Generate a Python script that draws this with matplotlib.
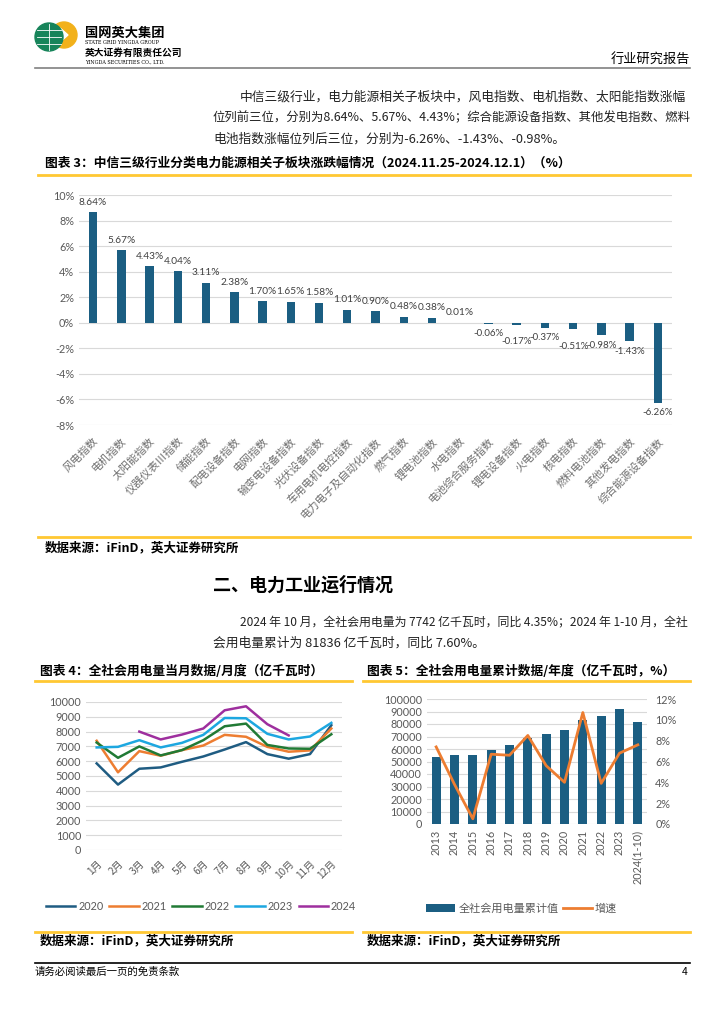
import numpy as np
import matplotlib
matplotlib.use('Agg')
import matplotlib.pyplot as plt
from matplotlib.patches import Circle, Polygon
from matplotlib.lines import Line2D

plt.rcParams['font.family'] = ['Noto Sans CJK SC', 'DejaVu Sans']

# chart 3: sub-sector weekly change (%)
sector_names = ['风电指数', '电机指数', '太阳能指数', '仪器仪表Ⅲ指数', '储能指数', '配电设备指数',
                '电网指数', '输变电设备指数', '光伏设备指数', '车用电机电控指数', '电力电子及自动化指数',
                '燃气指数', '锂电池指数', '水电指数', '电池综合服务指数', '锂电设备指数', '火电指数',
                '核电指数', '燃料电池指数', '其他发电指数', '综合能源设备指数']
sector_chg = [8.64, 5.67, 4.43, 4.04, 3.11, 2.38, 1.70, 1.65, 1.58, 1.01, 0.90,
              0.48, 0.38, 0.01, -0.06, -0.17, -0.37, -0.51, -0.98, -1.43, -6.26]

# chart 4: monthly consumption (亿千瓦时)
months = ['1月', '2月', '3月', '4月', '5月', '6月', '7月', '8月', '9月', '10月', '11月', '12月']
series_years = ['2020', '2021', '2022', '2023', '2024']
monthly_2020 = [5850, 4420, 5490, 5580, 5960, 6320, 6790, 7290, 6480, 6170, 6480, 8430]
monthly_2021 = [7380, 5250, 6680, 6370, 6750, 7060, 7780, 7650, 6970, 6640, 6730, 8210]
monthly_2022 = [7260, 6230, 7000, 6390, 6750, 7420, 8360, 8540, 7100, 6860, 6840, 7820]
monthly_2023 = [6930, 6970, 7420, 6930, 7240, 7780, 8920, 8900, 7850, 7470, 7670, 8590]
monthly_2024 = [np.nan, np.nan, 8000, 7470, 7800, 8210, 9440, 9710, 8500, 7742, np.nan, np.nan]
line_colors = ['#1F5C82', '#ED7D31', '#217A35', '#1DA7E0', '#9E2F9E']

# chart 5: cumulative consumption and growth
years = ['2013', '2014', '2015', '2016', '2017', '2018', '2019', '2020', '2021', '2022', '2023', '2024(1-10)']
cum_power = [53223, 55233, 55500, 59198, 63077, 68449, 72255, 75110, 83128, 86372, 92241, 81836]
growth = [7.4, 3.8, 0.5, 6.7, 6.6, 8.5, 5.6, 4.0, 10.7, 3.9, 6.8, 7.6]

W, H = 724, 1024
fig = plt.figure(figsize=(7.24, 10.24), dpi=100)
renderer = fig.canvas.get_renderer()

BLUE = '#1B5E82'
GRAY = '#595959'
GRID = '#D9D9D9'
YELLOW = '#FFC832'


def ax_px(l, t, r, b):
    return fig.add_axes([l / W, 1 - b / H, (r - l) / W, (b - t) / H])


def txt(x, y, s, **kw):
    return fig.text(x / W, 1 - y / H, s, **kw)


def txt_fit(x0, x1, y, s, **kw):
    # shrink a justified body line so it ends at the right margin
    t = txt(x0, y, s, **kw)
    w = t.get_window_extent(renderer).width
    if w > (x1 - x0):
        t.set_fontsize(t.get_fontsize() * (x1 - x0) / w)
    return t


def hline(x0, x1, y, color, lw):
    fig.add_artist(Line2D([x0 / W, x1 / W], [1 - y / H, 1 - y / H], color=color, lw=lw))


def clean(ax):
    for s in ax.spines.values():
        s.set_visible(False)
    ax.tick_params(length=0, colors=GRAY)
    ax.yaxis.grid(True, color=GRID, lw=0.8)
    ax.set_axisbelow(True)


# ---- header
lg = ax_px(33, 18, 79, 54)
lg.set_xlim(0, 46)
lg.set_ylim(0, 36)
lg.set_aspect('equal')
lg.axis('off')
lg.add_patch(Circle((31, 19), 13, color='#F2B11B'))
lg.add_patch(Polygon([[27, 26], [35, 19], [27, 12], [31, 19]], color='white'))
lg.add_patch(Circle((16, 17), 14, color='#17845A'))
for yy in (10, 17, 24):
    lg.plot([4, 28], [yy, yy], color='white', lw=0.6)
lg.plot([16, 16], [4, 30], color='white', lw=0.6)

txt(85, 33, '国网英大集团', fontsize=9.5, weight='bold', va='center')
txt(85, 43, 'STATE GRID YINGDA GROUP', fontsize=3.5, family='DejaVu Serif', va='center')
txt(85, 53, '英大证券有限责任公司', fontsize=7, weight='bold', va='center')
txt(85, 62, 'YINGDA SECURITIES CO., LTD.', fontsize=3.5, family='DejaVu Serif', va='center')
txt(690, 60, '行业研究报告', fontsize=9.5, ha='right', va='center')
hline(35, 690, 68, '#808080', 1.2)

# ---- paragraph 1
para = dict(fontsize=9.2, va='center', color='#222222')
txt_fit(240, 690, 97, '中信三级行业，电力能源相关子板块中，风电指数、电机指数、太阳能指数涨幅', **para)
txt_fit(213, 690, 118, '位列前三位，分别为8.64%、5.67%、4.43%；综合能源设备指数、其他发电指数、燃料', **para)
txt(213, 139, '电池指数涨幅位列后三位，分别为-6.26%、-1.43%、-0.98%。', **para)

txt(45, 163, '图表 3：中信三级行业分类电力能源相关子板块涨跌幅情况（2024.11.25-2024.12.1）（%）',
    fontsize=9.2, weight='bold', va='center')
hline(38, 690, 175, YELLOW, 2)

# ---- chart 3
ax3 = ax_px(79, 195, 672, 425)
clean(ax3)
x3 = np.arange(len(sector_names))
ax3.bar(x3, sector_chg, width=0.3, color=BLUE)
ax3.set_xlim(-0.5, len(sector_names) - 0.5)
ax3.set_ylim(-8, 10)
ax3.set_yticks(range(-8, 11, 2))
ax3.set_yticklabels([f'{v}%' for v in range(-8, 11, 2)], family='Lato', fontsize=7.8)
ax3.set_xticks(x3)
ax3.set_xticklabels(sector_names, rotation=45, ha='right', va='top', rotation_mode='anchor',
                    fontsize=7.8, color='#6E6E6E')
ax3.tick_params(axis='x', pad=8)
for xi, v in zip(x3, sector_chg):
    if v >= 0:
        ax3.annotate(f'{v:.2f}%', (xi, v), xytext=(0, 4), textcoords='offset points',
                     ha='center', va='bottom', fontsize=7.3, family='Lato', color='#404040')
    else:
        # alternate the small negative labels slightly so neighbours do not collide
        dy = -4 if (xi % 2 == 0 or v < -1) else -9
        ax3.annotate(f'{v:.2f}%', (xi, v), xytext=(0, dy), textcoords='offset points',
                     ha='center', va='top', fontsize=7.0, family='Lato', color='#404040')

hline(38, 690, 537, YELLOW, 2)
txt(45, 548, '数据来源：iFinD，英大证券研究所', fontsize=9, weight='bold', va='center')

# ---- section 2
txt(213, 585, '二、电力工业运行情况', fontsize=13, weight='bold', va='center')
txt_fit(240, 690, 622, '2024 年 10 月，全社会用电量为 7742 亿千瓦时，同比 4.35%；2024 年 1-10 月，全社', **para)
txt(213, 643, '会用电量累计为 81836 亿千瓦时，同比 7.60%。', **para)

# ---- chart 4
txt(40, 671, '图表 4：全社会用电量当月数据/月度（亿千瓦时）', fontsize=9.2, weight='bold', va='center')
hline(35, 352, 681, YELLOW, 2)

ax4 = ax_px(86, 702, 342, 850)
clean(ax4)
x4 = np.arange(len(months))
for yr, vals, c in zip(series_years,
                       [monthly_2020, monthly_2021, monthly_2022, monthly_2023, monthly_2024],
                       line_colors):
    ax4.plot(x4, vals, color=c, lw=1.8, label=yr)
ax4.set_xlim(-0.5, 11.5)
ax4.set_ylim(0, 10000)
ax4.set_yticks(range(0, 10001, 1000))
ax4.set_yticklabels([str(v) for v in range(0, 10001, 1000)], family='Lato', fontsize=7.8)
ax4.set_xticks(x4)
ax4.set_xticklabels(months, rotation=45, ha='right', va='top', rotation_mode='anchor',
                    fontsize=7.3, color=GRAY)
ax4.tick_params(axis='x', pad=6)
ax4.legend(loc='center', bbox_to_anchor=(0.45, -0.38), ncol=5, frameon=False,
           handlelength=2.7, columnspacing=0.5, handletextpad=0.3,
           prop={'family': 'Lato', 'size': 7.8}, labelcolor=GRAY)

hline(35, 352, 932, YELLOW, 2)
txt(40, 941, '数据来源：iFinD，英大证券研究所', fontsize=9, weight='bold', va='center')

# ---- chart 5
txt(367, 671, '图表 5：全社会用电量累计数据/年度（亿千瓦时，%）', fontsize=9.2, weight='bold', va='center')
hline(363, 690, 681, YELLOW, 2)

ax5 = ax_px(427, 699, 647, 824)
clean(ax5)
x5 = np.arange(len(years))
ax5.bar(x5, cum_power, width=0.5, color=BLUE, label='全社会用电量累计值')
ax5.set_xlim(-0.5, 11.5)
ax5.set_ylim(0, 100000)
ax5.set_yticks(range(0, 100001, 10000))
ax5.set_yticklabels([str(v) for v in range(0, 100001, 10000)], family='Lato', fontsize=7.8)
ax5.set_xticks(x5)
ax5.set_xticklabels(years, rotation=90, ha='center', va='top', family='Lato', fontsize=7.8, color=GRAY)
ax5.tick_params(axis='x', pad=4)
ax6 = ax5.twinx()
for s in ax6.spines.values():
    s.set_visible(False)
ax6.plot(x5, growth, color='#ED7D31', lw=2, label='增速')
ax6.set_ylim(0, 12)
ax6.set_yticks(range(0, 13, 2))
ax6.set_yticklabels([f'{v}%' for v in range(0, 13, 2)], family='Lato', fontsize=7.8)
ax6.tick_params(length=0, colors=GRAY, pad=6)
h1, l1 = ax5.get_legend_handles_labels()
h2, l2 = ax6.get_legend_handles_labels()
ax5.legend(h1 + h2, l1 + l2, loc='center', bbox_to_anchor=(0.43, -0.68), ncol=2, frameon=False,
           fontsize=8, handlelength=2.6, columnspacing=0.4, handletextpad=0.3, labelcolor=GRAY)

hline(363, 690, 932, YELLOW, 2)
txt(367, 941, '数据来源：iFinD，英大证券研究所', fontsize=9, weight='bold', va='center')

# ---- footer
hline(35, 690, 963, 'black', 1.2)
txt(35, 972, '请务必阅读最后一页的免责条款', fontsize=7.5, va='center')
txt(688, 972, '4', fontsize=7.5, ha='right', va='center')

fig.savefig('out.png', dpi=100)
